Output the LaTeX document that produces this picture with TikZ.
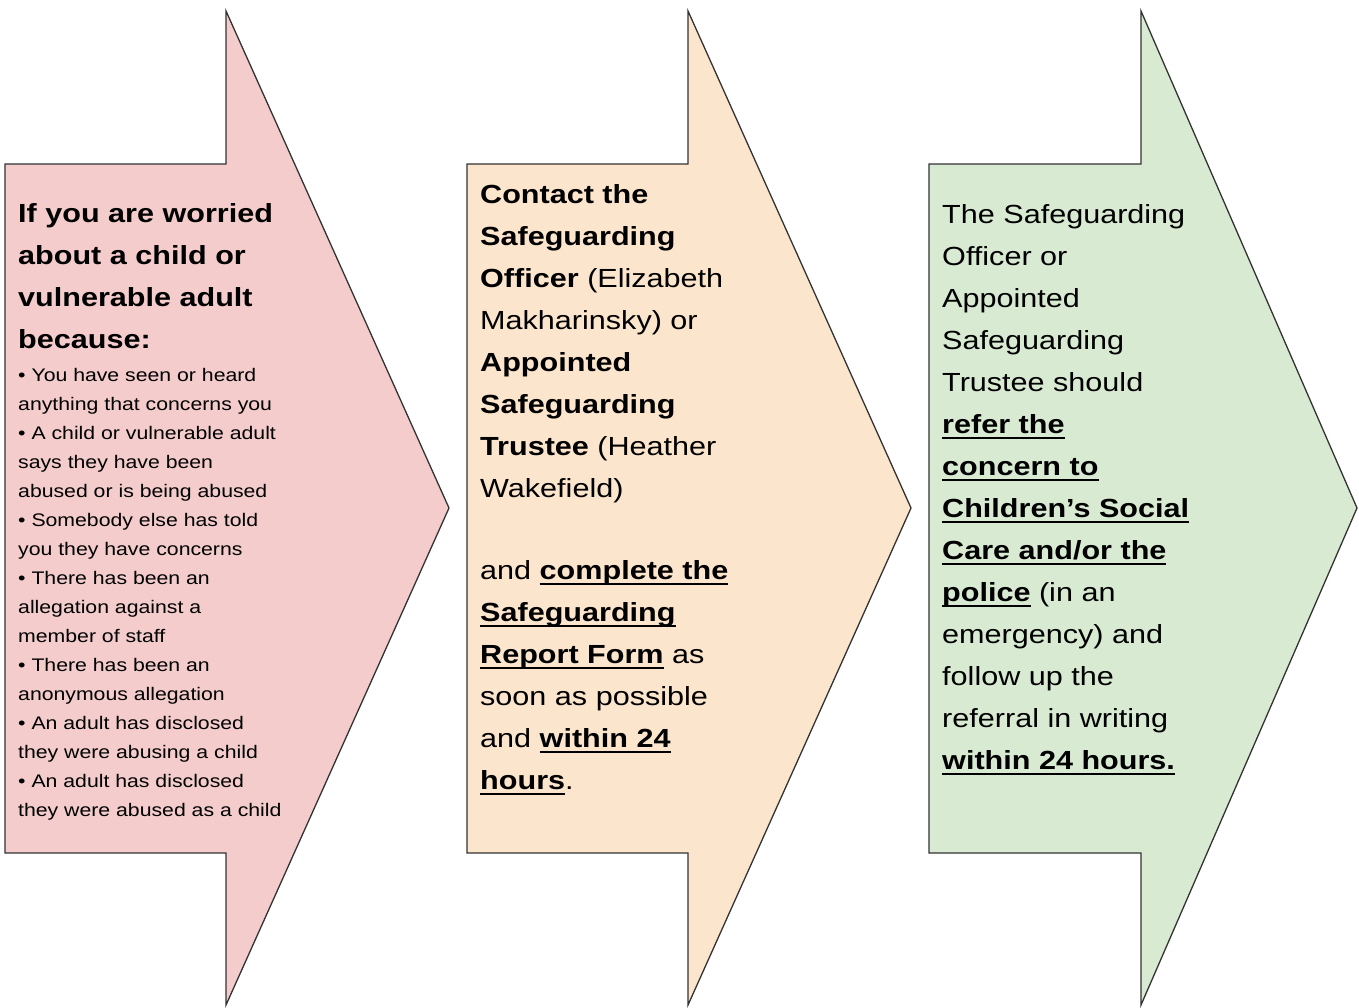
\documentclass[tikz,border=0pt]{standalone}
\usepackage{fontspec}
\setmainfont{Liberation Sans}[FakeStretch=1.167]
\definecolor{worryPink}{HTML}{F4CCCC}
\definecolor{contactPeach}{HTML}{FCE5CD}
\definecolor{referGreen}{HTML}{D9EAD3}
\definecolor{edgeGrey}{HTML}{333333}
\newsavebox{\ulbox}
\newcommand{\ulbold}[1]{\sbox{\ulbox}{\textbf{#1}}\rlap{\rule[-5.4pt]{\wd\ulbox}{2.4pt}}\usebox{\ulbox}}
\newcommand{\headstrut}{\rule{0pt}{30pt}}
\newcommand{\liststrut}{\rule{0pt}{22pt}}
\tikzset{
  chevron/.style={draw=edgeGrey,line width=1.3pt,line join=miter},
  bigtext/.style={anchor=north west,inner sep=0pt,align=left,font={\fontsize{26.2}{42}\selectfont}},
  smalltext/.style={anchor=north west,inner sep=0pt,align=left,font={\fontsize{18.2}{28.95}\selectfont}}
}
\begin{document}
\begin{tikzpicture}[x=1pt,y=-1pt]
\useasboundingbox (0,0) rectangle (1359,1007);

% Arrow shapes
\foreach \l/\n/\t/\c in {5/226/449/worryPink,467/688/911/contactPeach,929/1141/1357/referGreen}
  \draw[chevron,fill=\c] (\l,164) -- (\n,164) -- (\n,11) -- (\t,508) -- (\n,1005) -- (\n,853) -- (\l,853) -- cycle;

% Step 1: reasons for concern
\node[bigtext] (worryHead) at (18,192.7) {\headstrut\textbf{If you are worried}\\
  \textbf{about a child or}\\
  \textbf{vulnerable adult}\\
  \textbf{because:}};
\node[smalltext] (worryList) at (18,359.7) {\liststrut• You have seen or heard\\
  anything that concerns you\\
  • A child or vulnerable adult\\
  says they have been\\
  abused or is being abused\\
  • Somebody else has told\\
  you they have concerns\\
  • There has been an\\
  allegation against a\\
  member of staff\\
  • There has been an\\
  anonymous allegation\\
  • An adult has disclosed\\
  they were abusing a child\\
  • An adult has disclosed\\
  they were abused as a child};

% Step 2: contact and report
\node[bigtext] (contactText) at (480,173.3) {\headstrut\textbf{Contact the}\\
  \textbf{Safeguarding}\\
  \textbf{Officer} (Elizabeth\\
  Makharinsky) or\\
  \textbf{Appointed}\\
  \textbf{Safeguarding}\\
  \textbf{Trustee} (Heather\\
  Wakefield)\\[40pt]
  and \ulbold{complete the}\\
  \ulbold{Safeguarding}\\
  \ulbold{Report Form} as\\
  soon as possible\\
  and \ulbold{within 24}\\
  \ulbold{hours}.};

% Step 3: referral
\node[bigtext] (referText) at (942,193.3) {\headstrut The Safeguarding\\
  Officer or\\
  Appointed\\
  Safeguarding\\
  Trustee should\\
  \ulbold{refer the}\\
  \ulbold{concern to}\\
  \ulbold{Children’s Social}\\
  \ulbold{Care and/or the}\\
  \ulbold{police} (in an\\
  emergency) and\\
  follow up the\\
  referral in writing\\
  \ulbold{within 24 hours.}};
\end{tikzpicture}
\end{document}
